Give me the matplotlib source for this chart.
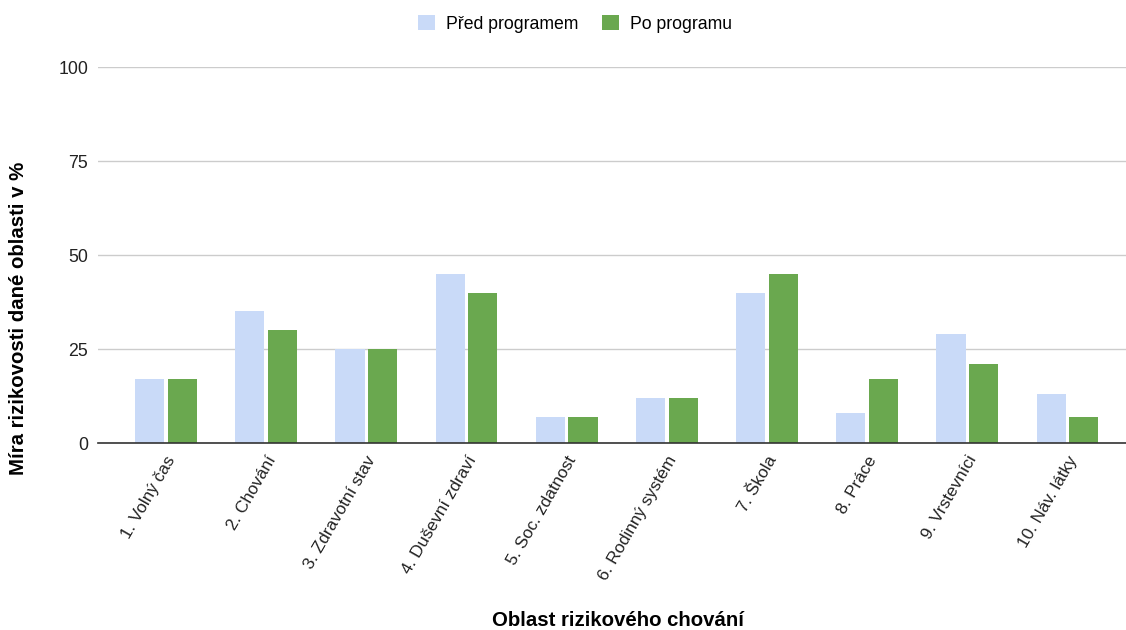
import numpy as np
import matplotlib
matplotlib.use('Agg')
import matplotlib.pyplot as plt
import matplotlib.transforms as mtransforms

plt.rcParams['font.family'] = ['Liberation Sans', 'DejaVu Sans']

# ── data ─────────────────────────────────────────────
categories = ['1. Volný čas', '2. Chování', '3. Zdravotní stav', '4. Duševní zdraví',
              '5. Soc. zdatnost', '6. Rodinný systém', '7. Škola', '8. Práce',
              '9. Vrstevníci', '10. Náv. látky']
before = [17, 35, 25, 45, 7, 12, 40, 8, 29, 13]
after = [17, 30, 25, 40, 7, 12, 45, 17, 21, 7]
series_names = ['Před programem', 'Po programu']
yticks = [0, 25, 50, 75, 100]

c_before = '#c9daf8'
c_after = '#6aa84f'

fig = plt.figure(figsize=(11.26, 6.3), dpi=100)
ax = fig.add_axes([98 / 1126, 1 - 443 / 630, 1 - 98 / 1126, (443 - 67) / 630])

x = np.arange(len(categories))
w = 0.29
ax.bar(x - 0.163, before, w, color=c_before, label=series_names[0], zorder=3)
ax.bar(x + 0.163, after, w, color=c_after, label=series_names[1], zorder=3)

ax.set_xlim(-0.679, 9.584)
ax.set_ylim(0, 100)
ax.set_yticks(yticks)
ax.yaxis.grid(True, color='#cccccc', linewidth=1, zorder=0)
ax.tick_params(axis='y', length=0, labelsize=12.8, pad=7, labelcolor='#222222')
ax.tick_params(axis='x', length=0, labelsize=12.3, pad=10, labelcolor='#222222')
ax.set_xticks(x)
ax.set_xticklabels(categories, rotation=60, ha='right', va='center', rotation_mode='anchor')

# nudge the rotated labels a little to the right
shift = mtransforms.ScaledTranslation(6 / 100, 0, fig.dpi_scale_trans)
for lbl in ax.get_xticklabels():
    lbl.set_transform(lbl.get_transform() + shift)

for s in ['top', 'right', 'left']:
    ax.spines[s].set_visible(False)
ax.spines['bottom'].set_color('#333333')
ax.spines['bottom'].set_linewidth(1.2)
ax.spines['bottom'].set_zorder(4)

fig.text(19 / 1126, 1 - 318 / 630, 'Míra rizikovosti dané oblasti v %', fontsize=14.7,
         fontweight='bold', rotation=90, ha='center', va='center')
fig.text(618 / 1126, 1 - 621 / 630, 'Oblast rizikového chování', fontsize=14.7,
         fontweight='bold', ha='center', va='center')

ax.legend(loc='center', bbox_to_anchor=((575 - 98) / 1028, 1 + (67 - 24) / 376), ncol=2,
          frameon=False, fontsize=12.7, handlelength=0.95, handleheight=0.95,
          columnspacing=1.36, handletextpad=0.62)

fig.savefig('out.png', dpi=100)
